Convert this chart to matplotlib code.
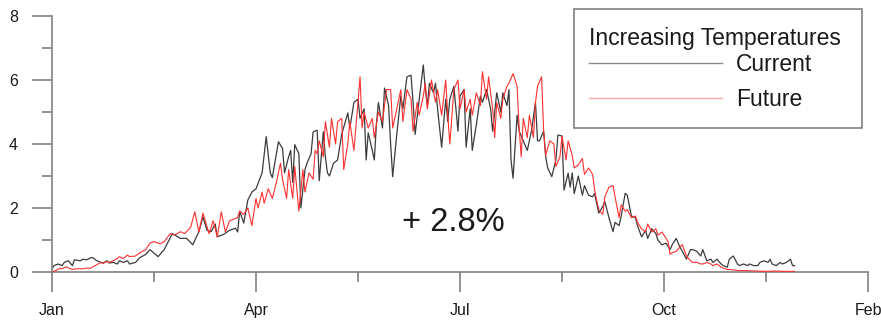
import matplotlib
matplotlib.use("Agg")
import matplotlib.pyplot as plt
from matplotlib.patches import Rectangle

plt.rcParams['font.family'] = ['Liberation Sans', 'DejaVu Sans']

# day of year and values
cur_days = [0, 1, 3, 5, 6, 8, 10, 11, 14, 15, 17, 19, 20, 22, 24, 25, 27, 28, 30, 32,
            33, 35, 37, 38, 41, 43, 46, 48, 52, 55, 59, 63, 66, 69, 72, 74, 76, 78, 80, 81,
            84, 87, 90, 91, 92, 94, 96, 98, 100, 103, 105, 107, 108, 111, 113, 114, 116, 117, 118, 119,
            121, 122, 124, 125, 127, 128, 130, 131, 133, 134, 135, 136, 138, 140, 142, 145, 146, 148, 150, 151,
            153, 154, 155, 157, 158, 159, 160, 162, 163, 165, 166, 167, 169, 171, 172, 174, 176, 177, 178, 180,
            182, 183, 184, 185, 187, 188, 189, 191, 193, 194, 195, 197, 199, 200, 202, 203, 205, 206, 208, 210,
            211, 213, 215, 216, 218, 220, 221, 223, 224, 225, 226, 228, 229, 231, 233, 235, 237, 238, 239, 241,
            242, 243, 245, 247, 248, 250, 251, 253, 254, 255, 256, 258, 260, 261, 263, 265, 266, 268, 270, 271,
            273, 275, 276, 278, 279, 281, 282, 284, 286, 287, 289, 291, 292, 294, 296, 297, 299, 301, 302, 303,
            304, 306, 308, 309, 311, 313, 314, 316, 318, 319, 321, 323, 324, 326, 328, 329, 331, 332, 334, 336,
            337, 339, 341, 342, 344, 346, 347, 349, 351, 352, 353, 355, 357, 358, 360, 362, 363, 364]
cur_vals = [0.1, 0.2, 0.25, 0.2, 0.3, 0.35, 0.2, 0.38, 0.35, 0.4, 0.38, 0.45, 0.45, 0.35, 0.3, 0.28, 0.35, 0.28, 0.3, 0.25,
            0.35, 0.3, 0.35, 0.25, 0.3, 0.45, 0.55, 0.7, 0.48, 0.7, 1.2, 1.05, 1.05, 0.85, 1.26, 1.72, 1.3, 1.26, 1.5, 1.1,
            1.17, 1.3, 1.37, 1.25, 1.9, 1.53, 2.25, 2.5, 2.6, 3.1, 4.23, 3.1, 2.95, 4.07, 3.86, 3.1, 3.6, 3.8, 2.8, 3.98,
            3.7, 2.0, 3.2, 3.4, 3.7, 4.38, 4.43, 2.85, 4.38, 3.6, 3.1, 3.0, 3.4, 3.5, 4.3, 4.97, 4.5, 5.3, 5.4, 4.8,
            5.1, 3.5, 4.35, 3.8, 3.5, 4.6, 5.3, 4.5, 5.75, 5.2, 4.0, 2.98, 4.3, 5.5, 5.1, 6.1, 6.15, 5.3, 4.3, 5.4,
            6.47, 5.7, 5.2, 5.9, 5.6, 5.9, 5.1, 3.9, 5.4, 4.7, 5.4, 5.8, 4.4, 5.5, 5.7, 3.9, 5.1, 3.8, 4.6, 5.5,
            5.3, 5.7, 5.1, 4.4, 5.6, 5.0, 5.6, 5.2, 5.7, 3.5, 2.93, 4.9, 4.4, 4.1, 3.8, 4.4, 5.3, 4.1, 4.1, 4.4,
            3.6, 3.25, 2.98, 3.5, 4.28, 4.25, 2.56, 3.09, 2.65, 3.1, 2.45, 3.0, 2.4, 2.7, 2.4, 2.35, 2.45, 1.84, 2.05, 2.2,
            1.7, 1.26, 1.55, 1.45, 1.75, 2.46, 2.4, 1.75, 1.7, 1.45, 1.1, 1.3, 1.05, 1.35, 1.2, 1.0, 0.85, 0.9, 0.8, 0.7,
            0.85, 1.05, 0.75, 0.65, 0.4, 0.7, 0.7, 0.65, 0.5, 0.7, 0.35, 0.4, 0.3, 0.4, 0.25, 0.2, 0.15, 0.4, 0.5, 0.25,
            0.2, 0.25, 0.2, 0.25, 0.2, 0.2, 0.3, 0.35, 0.3, 0.4, 0.25, 0.2, 0.3, 0.25, 0.3, 0.4, 0.2, 0.2]

fut_days = [0, 2, 4, 5, 7, 9, 10, 12, 14, 15, 17, 19, 20, 22, 24, 25, 27, 28, 30, 32,
            33, 35, 37, 38, 41, 43, 46, 48, 50, 53, 55, 58, 60, 63, 65, 68, 70, 72, 74, 77,
            79, 81, 83, 85, 87, 91, 92, 94, 96, 98, 100, 101, 103, 104, 106, 108, 110, 112, 113, 115,
            116, 118, 119, 121, 123, 124, 126, 128, 129, 130, 131, 133, 134, 136, 137, 139, 140, 142, 143, 145,
            146, 148, 150, 151, 152, 153, 155, 157, 158, 160, 162, 164, 166, 167, 169, 171, 172, 174, 176, 177,
            179, 180, 182, 183, 184, 186, 188, 189, 191, 193, 194, 195, 197, 199, 200, 202, 203, 205, 206, 208,
            210, 211, 213, 214, 216, 217, 218, 220, 221, 223, 224, 226, 228, 229, 230, 231, 233, 234, 236, 237,
            238, 240, 241, 242, 244, 246, 247, 249, 250, 252, 253, 255, 256, 258, 260, 261, 263, 265, 266, 268,
            270, 271, 273, 275, 276, 278, 279, 281, 282, 284, 286, 287, 289, 291, 292, 294, 296, 297, 299, 302,
            303, 304, 306, 308, 309, 311, 313, 314, 316, 318, 319, 321, 323, 324, 326, 328, 329, 331, 332, 336,
            340, 345, 350, 354, 359, 364]
fut_vals = [0.0, 0.05, 0.12, 0.1, 0.16, 0.1, 0.08, 0.1, 0.1, 0.1, 0.12, 0.12, 0.16, 0.23, 0.3, 0.27, 0.33, 0.3, 0.35, 0.42,
            0.48, 0.42, 0.53, 0.48, 0.5, 0.6, 0.7, 0.9, 0.95, 0.88, 0.95, 1.2, 1.15, 1.26, 1.2, 1.4, 1.88, 1.25, 1.84, 1.2,
            1.6, 1.1, 1.88, 1.25, 1.6, 1.7, 1.9, 1.8, 2.0, 1.45, 2.3, 2.0, 2.5, 2.15, 2.6, 2.3, 2.8, 3.4, 2.9, 2.3,
            3.2, 2.3, 3.3, 1.9, 3.2, 2.5, 3.1, 2.9, 3.8, 3.7, 4.1, 3.6, 4.7, 3.9, 4.8, 4.0, 4.7, 4.8, 3.2, 4.0,
            4.7, 3.8, 5.3, 6.1, 4.5, 5.0, 4.5, 4.8, 4.2, 5.0, 4.7, 5.7, 5.7, 4.5, 5.1, 5.7, 4.7, 5.7, 5.4, 4.4,
            5.3, 4.9, 5.5, 5.9, 5.1, 6.0, 5.3, 5.7, 4.9, 6.0, 4.9, 4.0, 5.7, 6.0, 5.1, 5.7, 5.0, 5.4, 4.9, 5.6,
            5.2, 6.26, 5.4, 6.1, 5.1, 4.2, 5.3, 4.8, 5.4, 5.8, 5.9, 6.2, 5.8, 4.5, 3.6, 4.8, 4.2, 4.9, 4.2, 5.3,
            5.8, 6.1, 4.4, 3.65, 4.1, 4.0, 3.3, 3.6, 4.25, 3.5, 4.1, 3.65, 3.25, 3.35, 3.55, 3.05, 3.25, 3.05, 2.55, 1.95,
            1.8, 2.35, 2.65, 2.7, 2.35, 1.7, 2.1, 1.9, 1.95, 1.7, 1.75, 1.55, 1.35, 1.25, 1.5, 1.25, 1.35, 1.15, 1.25, 0.95,
            0.55, 0.6, 0.65, 0.8, 0.85, 0.5, 0.35, 0.3, 0.3, 0.25, 0.25, 0.3, 0.25, 0.2, 0.25, 0.15, 0.12, 0.08, 0.08, 0.05,
            0.04, 0.03, 0.02, 0.03, 0.02, 0.02]

tick_days = [0, 100, 200, 300, 400]
tick_labels = ['Jan', 'Apr', 'Jul', 'Oct', 'Feb']
grey = '#808080'
W, H = 881, 323

fig = plt.figure(figsize=(8.81, 3.23), dpi=100)
ax = fig.add_axes([52 / W, 51 / H, 816 / W, 256 / H])

ax.plot(cur_days, cur_vals, color='#3c3c3c', lw=0.9, label='Current')
ax.plot(fut_days, fut_vals, color='#ff3030', lw=0.8, label='Future')

ax.set_xlim(0, 400)
ax.set_ylim(0, 8)
ax.set_xticks(tick_days)
ax.set_xticklabels(tick_labels)
ax.set_xticks(range(50, 400, 100), minor=True)
ax.set_yticks([0, 2, 4, 6, 8])
ax.set_yticks([1, 3, 5, 7], minor=True)

for s in ['top', 'right']:
    ax.spines[s].set_visible(False)
for s in ['left', 'bottom']:
    ax.spines[s].set_color(grey)
    ax.spines[s].set_linewidth(1.2)
ax.spines['bottom'].set_zorder(0.5)

ax.tick_params(which='major', length=14.4, width=1.2, color=grey, labelsize=11.5,
               labelcolor='#1a1a1a')
ax.tick_params(which='minor', length=7.2, width=1.2, color=grey)
ax.tick_params(axis='x', which='major', pad=8)
ax.tick_params(axis='y', which='major', pad=10)

ax.text(196.6, 1.56, '+ 2.8%', fontsize=23.5, ha='center', va='center', color='#1a1a1a')

# legend box, title and entries
fig.patches.append(Rectangle((574 / W, 1 - 128 / H), 288 / W, 119 / H, transform=fig.transFigure,
                             fill=False, edgecolor=grey, lw=1.2))
fig.text(589 / W, 1 - 38 / H, 'Increasing Temperatures', fontsize=16.5, ha='left', va='center',
         color='#1a1a1a')
leg = ax.legend(loc='upper left', bbox_to_anchor=(589 / W, 1 - 53 / H), bbox_transform=fig.transFigure,
                fontsize=16.5, frameon=False, handlelength=5.8, handletextpad=0.6,
                labelspacing=0.52, borderpad=0, borderaxespad=0)
for line in leg.get_lines():
    line.set_linewidth(1.0)
leg.get_lines()[0].set_color('#8a8a8a')
leg.get_lines()[1].set_color('#ffaaaa')
for t in leg.get_texts():
    t.set_color('#1a1a1a')

fig.savefig('out.png', dpi=100)
